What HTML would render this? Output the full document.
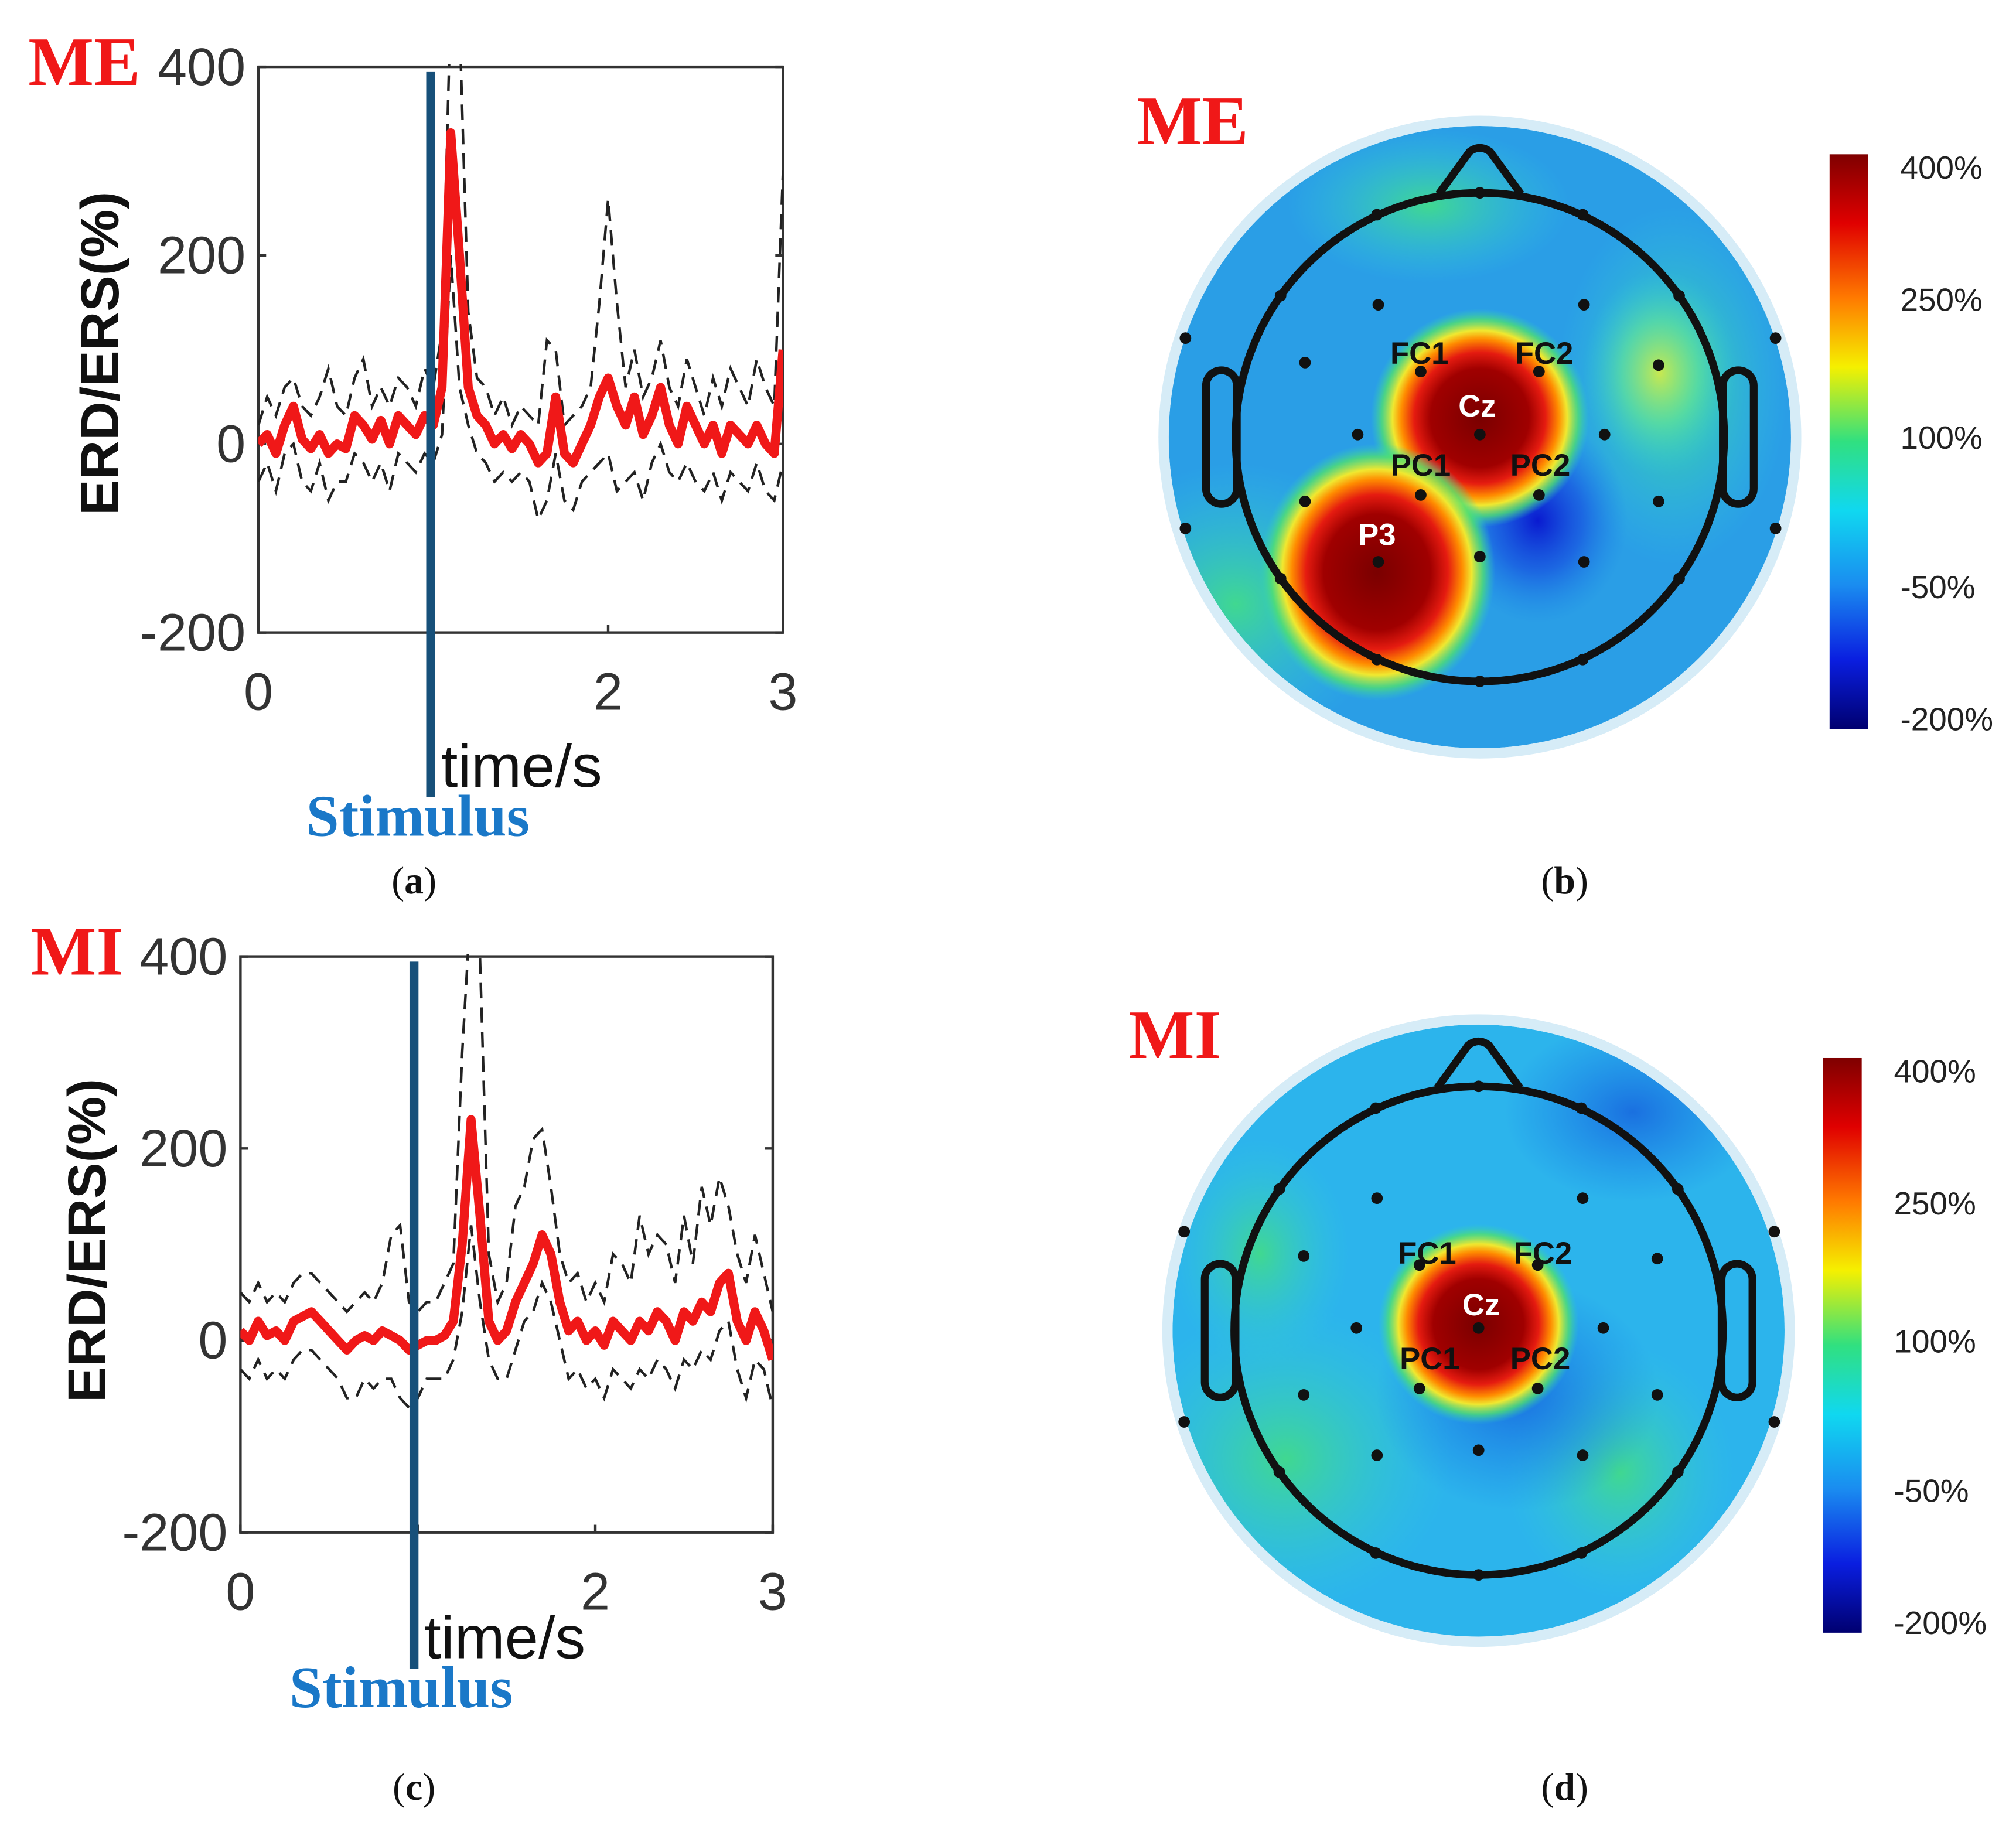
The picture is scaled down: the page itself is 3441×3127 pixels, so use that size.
<!DOCTYPE html>
<html><head><meta charset="utf-8"><style>
html,body{margin:0;padding:0;background:#fff}
svg{display:block}
</style></head><body>
<svg id="fig" width="3441" height="3127" viewBox="0 0 1568 1425" preserveAspectRatio="none" xmlns="http://www.w3.org/2000/svg">
<defs>
<linearGradient id="jet" x1="0" y1="0" x2="0" y2="1">
<stop offset="0" stop-color="#7f0000"/><stop offset="0.12" stop-color="#e00000"/><stop offset="0.25" stop-color="#ff7a00"/><stop offset="0.37" stop-color="#f5f000"/><stop offset="0.5" stop-color="#30e080"/><stop offset="0.62" stop-color="#10d8f0"/><stop offset="0.75" stop-color="#1a8cf0"/><stop offset="0.88" stop-color="#0a1ee0"/><stop offset="1" stop-color="#000070"/>
</linearGradient>
<radialGradient id="hot"><stop offset="0" stop-color="#7a0000"/><stop offset="0.45" stop-color="#a00000"/><stop offset="0.6" stop-color="#e51b10"/><stop offset="0.72" stop-color="#ff8c00"/><stop offset="0.8" stop-color="#f0e830"/><stop offset="0.9" stop-color="#50e070" stop-opacity="0.8"/><stop offset="1" stop-color="#30d0c0" stop-opacity="0"/></radialGradient>
<radialGradient id="cold"><stop offset="0" stop-color="#0a1ad0"/><stop offset="0.5" stop-color="#1650e0" stop-opacity="0.7"/><stop offset="1" stop-color="#1a80e8" stop-opacity="0"/></radialGradient>
<radialGradient id="midblue"><stop offset="0" stop-color="#1a70e0"/><stop offset="1" stop-color="#1a80e8" stop-opacity="0"/></radialGradient>
<radialGradient id="warm"><stop offset="0" stop-color="#c8e850"/><stop offset="0.5" stop-color="#60e0a0" stop-opacity="0.7"/><stop offset="1" stop-color="#30c8e0" stop-opacity="0"/></radialGradient>
<radialGradient id="grn"><stop offset="0" stop-color="#40d890"/><stop offset="1" stop-color="#30c8e0" stop-opacity="0"/></radialGradient>
<clipPath id="clipB"><circle cx="1151" cy="340" r="242"/></clipPath>
<clipPath id="clipD"><circle cx="1150" cy="1035" r="238"/></clipPath>
<clipPath id="clipA"><rect x="201" y="50" width="408" height="440"/></clipPath>
<clipPath id="clipC"><rect x="187" y="742" width="414" height="448"/></clipPath>
</defs>
<g id="root"></g>
</svg>
<script>
// ---- chart data ----
const timeStart = 0, timeEnd = 3;
const meRed = [0,10,-10,20,40,5,-5,10,-10,0,-5,30,20,5,25,0,30,20,10,30,20,60,330,200,60,30,20,0,10,-5,10,0,-20,-10,50,-10,-20,0,20,50,70,40,20,50,10,30,60,20,0,40,20,0,20,-10,20,10,0,20,0,-10,100];
const meUpper = [20,50,30,60,70,40,30,50,80,40,30,70,90,40,60,40,70,60,40,80,60,120,470,450,140,70,60,30,50,20,40,30,20,110,100,20,30,40,60,150,260,150,60,100,50,70,110,60,40,90,60,30,70,40,80,60,40,90,60,40,290];
const meLower = [-40,-20,-50,-10,0,-40,-50,-20,-60,-40,-40,-10,-20,-40,-20,-50,-10,-20,-30,-10,-20,10,200,60,20,-10,-20,-40,-30,-40,-30,-40,-80,-60,-10,-60,-70,-40,-30,-20,-10,-50,-40,-30,-60,-20,0,-30,-40,-20,-40,-50,-30,-60,-30,-40,-50,-20,-50,-60,-20];
const miRed = [10,0,20,5,10,0,20,25,30,20,10,0,-10,0,5,0,10,5,0,-10,-5,0,0,5,20,100,230,130,20,0,10,40,60,80,110,90,40,10,20,0,10,-5,20,10,0,20,10,30,20,0,30,20,40,30,60,70,20,0,30,10,-20];
const miUpper = [50,40,60,40,50,40,60,70,70,60,50,40,30,40,50,40,60,110,120,40,30,40,40,60,80,300,460,400,90,40,60,140,160,210,220,160,90,60,70,40,60,40,90,80,60,130,90,110,100,60,130,80,160,120,170,140,90,60,110,70,30];
const miLower = [-30,-40,-20,-40,-30,-40,-20,-10,-10,-20,-30,-40,-60,-60,-40,-50,-40,-40,-60,-70,-60,-40,-40,-40,-20,30,120,40,-20,-40,-40,-10,20,30,60,40,0,-40,-30,-50,-40,-60,-30,-40,-50,-30,-40,-20,-30,-50,-20,-30,-10,-20,10,20,-30,-60,-20,-30,-70];
const yTicks = [400,200,0,-200];
const xTicks = [0,1,2,3];
const xTickLabels = ["0","","2","3"];
const cbLabels = ["400%","250%","100%","-50%","-200%"];
const cbPositions = [0.98,0.75,0.51,0.25,0.02];
// ---- helpers ----
const NS="http://www.w3.org/2000/svg";
const root=document.getElementById('root');
function mk(tag,attrs,parent){const e=document.createElementNS(NS,tag);for(const k in attrs)e.setAttribute(k,attrs[k]);(parent||root).appendChild(e);return e;}
function txt(s,attrs,parent){const e=mk('text',attrs,parent);e.textContent=s;return e;}
function caption(letter,x,y,parent){
  const t=mk('text',{x:x,y:y,'text-anchor':'middle','font-family':'Liberation Serif, serif','font-size':30,fill:'#111'},parent);
  
  const a=mk('tspan',{},t);a.textContent='(';
  const b=mk('tspan',{'font-weight':'bold'},t);b.textContent=letter;
  const c=mk('tspan',{},t);c.textContent=')';
}

function linePanel(o){
  const g=mk('g',{});
  
  
  const sx=v=>o.x0+(v-timeStart)/(timeEnd-timeStart)*(o.x1-o.x0);
  const sy=v=>o.y1-(v+200)/600*(o.y1-o.y0);
  const box=mk('rect',{x:o.x0,y:o.y0,width:o.x1-o.x0,height:o.y1-o.y0,fill:'none',stroke:'#333','stroke-width':2},g);
  
  yTicks.forEach(v=>{
    mk('line',{x1:o.x0,x2:o.x0+6,y1:sy(v),y2:sy(v),stroke:'#333','stroke-width':2},g);
    mk('line',{x1:o.x1,x2:o.x1-6,y1:sy(v),y2:sy(v),stroke:'#333','stroke-width':2},g);
    const t=txt(String(v),{x:o.x0-10,y:sy(v)+14,'text-anchor':'end','font-family':'Liberation Sans, sans-serif','font-size':41,fill:'#333'},g);
    
  });
  xTicks.forEach((v,i)=>{
    mk('line',{x1:sx(v),x2:sx(v),y1:o.y1,y2:o.y1-6,stroke:'#333','stroke-width':2},g);
    if(xTickLabels[i]){const t=txt(xTickLabels[i],{x:sx(v),y:o.y1+60,'text-anchor':'middle','font-family':'Liberation Sans, sans-serif','font-size':41,fill:'#333'},g);
    }
  });
  const n=o.red.length;
  const pts=a=>a.map((v,i)=>(sx(timeStart+i*(timeEnd-timeStart)/(n-1))).toFixed(1)+','+sy(v).toFixed(1)).join(' ');
  const cg=mk('g',{'clip-path':'url(#'+o.clip+')'},g);
  const up=mk('polyline',{points:pts(o.upper),fill:'none',stroke:'#222','stroke-width':2,'stroke-dasharray':'12,7'},cg);
  
  const lo=mk('polyline',{points:pts(o.lower),fill:'none',stroke:'#222','stroke-width':2,'stroke-dasharray':'12,7'},cg);
  
  const rd=mk('polyline',{points:pts(o.red),fill:'none',stroke:'#f01818','stroke-width':7,'stroke-linejoin':'round'},cg);
  
  const st=mk('line',{x1:o.stimX,x2:o.stimX,y1:o.y0+4,y2:o.stimBottom,stroke:'#17507a','stroke-width':7},g);
  
  const yl=txt('ERD/ERS(%)',{x:0,y:0,transform:'translate('+o.ylx+','+o.yly+') rotate(-90)','text-anchor':'middle','font-family':'Liberation Sans, sans-serif','font-size':42,'font-weight':'bold',fill:'#111'},g);
  
  const xl=txt('time/s',{x:o.stimX+8,y:o.stimBottom-8,'font-family':'Liberation Sans, sans-serif','font-size':47,fill:'#111'},g);
  
  const sl=txt('Stimulus',{x:o.stimX-10,y:o.stimBottom+30,'text-anchor':'middle','font-family':'Liberation Serif, serif','font-size':46,'font-weight':'bold',fill:'#1a78c8'},g);
  
  const tl=txt(o.title,{x:o.titleX,y:o.y0+14,'font-family':'Liberation Serif, serif','font-size':54,'font-weight':'bold',fill:'#f01818'},g);
  
  caption(o.cap,o.capX,o.capY,g);
}
linePanel({name:'me-erd-chart',x0:201,x1:609,y0:52,y1:492,red:meRed,upper:meUpper,lower:meLower,clip:'clipA',stimX:335,stimBottom:620,ylx:92,yly:275,title:'ME',titleX:22,cap:'a',capX:322,capY:695});
linePanel({name:'mi-erd-chart',x0:187,x1:601,y0:744,y1:1192,red:miRed,upper:miUpper,lower:miLower,clip:'clipC',stimX:322,stimBottom:1298,ylx:82,yly:965,title:'MI',titleX:24,cap:'c',capX:322,capY:1400});

// ---- topomaps ----
function topo(o){
  const g=mk('g',{});
  
  const cx=o.cx,cy=o.cy;
  mk('circle',{cx:cx,cy:cy,r:o.R+8,fill:'#d6ecf7'},g);
  const m=mk('g',{'clip-path':'url(#'+o.clip+')'},g);
  mk('circle',{cx:cx,cy:cy,r:o.R,fill:o.base},m);
  o.blobs.forEach(b=>{const e=mk('ellipse',{cx:cx+b[1],cy:cy+b[2],rx:b[3],ry:b[4],fill:'url(#'+b[0]+')'},m);});
  const head=mk('circle',{cx:cx,cy:cy,r:190,fill:'none',stroke:'#111','stroke-width':6},g);
  
  mk('path',{d:`M${cx-32} ${cy-189} L${cx-8} ${cy-222} Q${cx} ${cy-228} ${cx+8} ${cy-222} L${cx+32} ${cy-189}`,fill:'none',stroke:'#111','stroke-width':6},g);
  mk('rect',{x:cx-213,y:cy-52,width:24,height:104,rx:12,fill:'none',stroke:'#111','stroke-width':6},g);
  mk('rect',{x:cx+189,y:cy-52,width:24,height:104,rx:12,fill:'none',stroke:'#111','stroke-width':6},g);
  const el=[[-229,-77],[-79,-103],[81,-103],[230,-77],[-136,-58],[-46,-51],[46,-51],[139,-56],[-95,-2],[0,-2],[97,-2],[-136,50],[-46,45],[46,45],[139,50],[-229,71],[-79,97],[0,93],[81,97],[230,71],[0,-190],[0,190],[-80,-173],[80,-173],[-155,-110],[155,-110],[-80,173],[80,173],[-155,110],[155,110]];
  el.forEach(p=>{const d=mk('circle',{cx:cx+p[0],cy:cy+p[1],r:4.5,fill:'#111'},g);});
  o.labels.forEach(l=>{const t=txt(l[0],{x:cx+l[1],y:cy+l[2],'text-anchor':'middle','font-family':'Liberation Sans, sans-serif','font-size':24,'font-weight':'bold',fill:l[3]},g);});
  const tl=txt(o.title,{x:o.tx,y:o.ty,'font-family':'Liberation Serif, serif','font-size':54,'font-weight':'bold',fill:'#f01818'},g);
  
  const cb=mk('rect',{x:o.cbx,y:o.cby,width:30,height:o.cbh,fill:'url(#jet)'},g);
  
  cbLabels.forEach((s,i)=>{const t=txt(s,{x:o.cbx+55,y:o.cby+o.cbh*(1-cbPositions[i])+10,'font-family':'Liberation Sans, sans-serif','font-size':25,fill:'#222'},g);});
  caption(o.cap,o.capX,o.capY,g);
}
topo({name:'me-topomap',cx:1151,cy:340,R:242,clip:'clipB',base:'#2a9ee6',
  blobs:[['grn',-190,130,120,110],['grn',150,-40,90,140],['warm',140,-50,60,80],['cold',45,65,70,80],['grn',-40,-180,110,60],['hot',0,-15,85,85],['hot',-80,105,92,100]],
  labels:[['FC1',-47,-57,'#111'],['FC2',50,-57,'#111'],['Cz',-2,-16,'#fff'],['PC1',-46,30,'#111'],['PC2',47,30,'#111'],['P3',-80,84,'#fff']],
  title:'ME',tx:884,ty:112,cbx:1423,cby:120,cbh:447,cap:'b',capX:1217,capY:695});
topo({name:'mi-topomap',cx:1150,cy:1035,R:238,clip:'clipD',base:'#2cb4ec',
  blobs:[['grn',-150,100,130,120],['grn',110,110,90,100],['grn',-170,-60,70,90],['midblue',30,50,110,90],['midblue',120,-170,100,70],['hot',0,-5,78,78]],
  labels:[['FC1',-40,-52,'#111'],['FC2',50,-52,'#111'],['Cz',2,-12,'#fff'],['PC1',-38,30,'#111'],['PC2',48,30,'#111']],
  title:'MI',tx:878,ty:823,cbx:1418,cby:823,cbh:447,cap:'d',capX:1217,capY:1400});
</script>
</body></html>
